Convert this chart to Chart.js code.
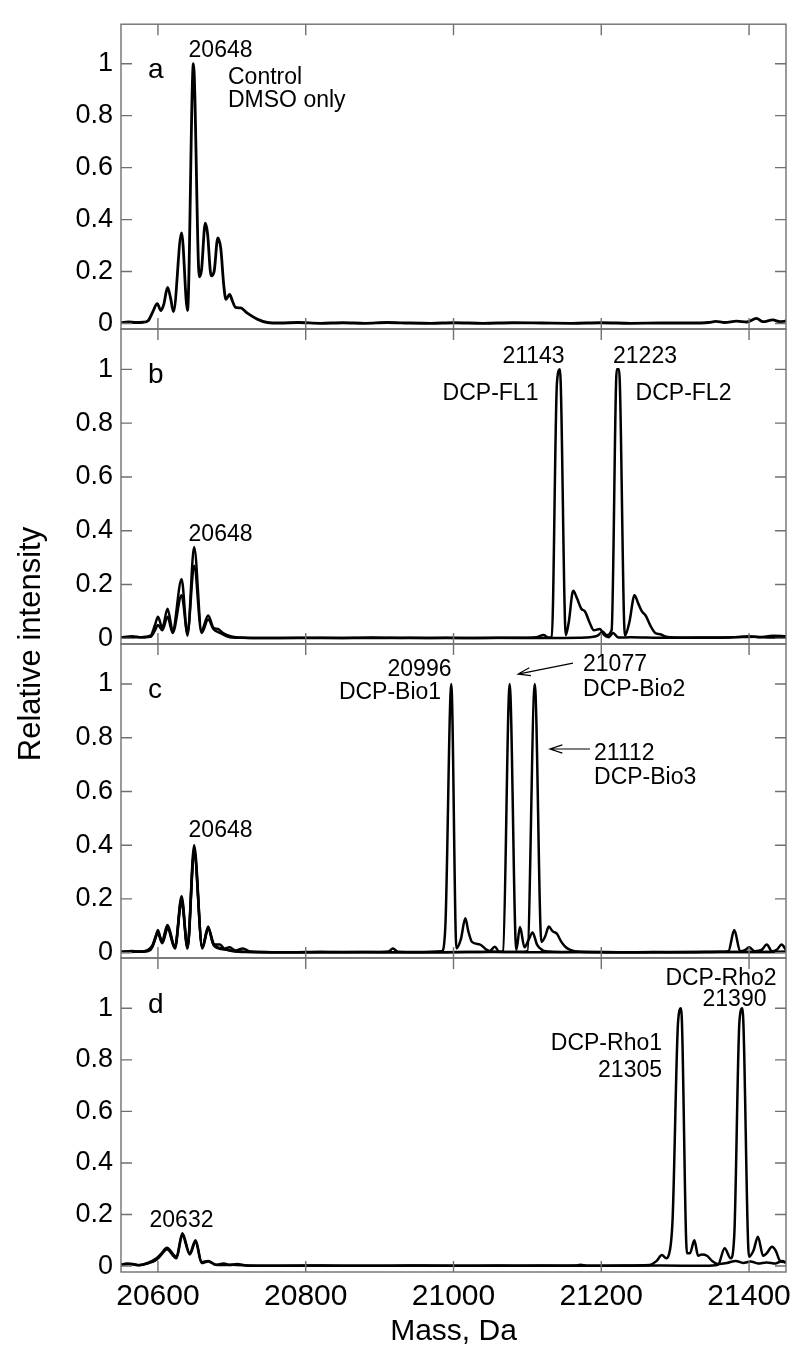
<!DOCTYPE html>
<html>
<head>
<meta charset="utf-8">
<title>Relative intensity vs mass</title>
<script src="https://cdn.jsdelivr.net/npm/chart.js@4.4.1/dist/chart.umd.min.js"></script>
<style>
  html, body { margin: 0; padding: 0; background: #fff; }
  #wrap { position: relative; width: 800px; height: 1357px; }
  #wrap canvas { position: absolute; left: 0; top: 0; }
</style>
</head>
<body>
<div id="wrap">
  <canvas id="panelA" width="800" height="1357"></canvas>
  <canvas id="panelB" width="800" height="1357"></canvas>
  <canvas id="panelC" width="800" height="1357"></canvas>
  <canvas id="panelD" width="800" height="1357"></canvas>
</div>
<script>
// ---- data (mass in Da, relative intensity) ----

// a: control, DMSO only
var aMass = [20550, 20560, 20570, 20580, 20587, 20593, 20599, 20604, 20608, 20613, 20617, 20621, 20632, 20640, 20648, 20656, 20659, 20664, 20667, 20672, 20676, 20681, 20685, 20689, 20692, 20697, 20701, 20705, 20712, 20721, 20735, 20748, 20765, 20790, 20820, 20850, 20880, 20910, 20940, 20970, 21000, 21040, 21080, 21120, 21160, 21200, 21240, 21280, 21320, 21345, 21355, 21367, 21383, 21397, 21410, 21419, 21432, 21442, 21450];
var aInt = [0.003, 0.006, 0.004, 0.005, 0.012, 0.045, 0.077, 0.05, 0.075, 0.139, 0.1, 0.046, 0.349, 0.05, 1.0, 0.18, 0.207, 0.386, 0.35, 0.184, 0.2, 0.33, 0.29, 0.15, 0.093, 0.112, 0.085, 0.062, 0.06, 0.04, 0.016, 0.004, 0.002, 0.004, 0.001, 0.003, 0.001, 0.004, 0.002, 0.001, 0.003, 0.001, 0.003, 0.002, 0.001, 0.003, 0.001, 0.002, 0.002, 0.004, 0.008, 0.004, 0.009, 0.006, 0.02, 0.007, 0.014, 0.007, 0.01];

// b: DCP-FL1 and DCP-FL2
var bFl1Mass = [20550, 20565, 20578, 20590, 20596, 20600, 20606, 20613, 20620, 20632, 20640, 20649, 20659, 20668, 20675, 20681, 20688, 20698, 20712, 20740, 20790, 20840, 20890, 20940, 20990, 21040, 21090, 21112, 21122, 21128, 21133, 21140, 21144, 21152, 21156, 21162, 21167, 21173, 21178, 21184, 21190, 21198, 21204, 21210, 21216, 21223, 21240, 21280, 21330, 21370, 21400, 21415, 21432, 21450];
var bFl1Int = [0.003, 0.008, 0.004, 0.01, 0.05, 0.08, 0.04, 0.11, 0.03, 0.22, 0.01, 0.34, 0.03, 0.085, 0.04, 0.035, 0.02, 0.008, 0.003, 0.001, 0.002, 0.001, 0.003, 0.001, 0.002, 0.001, 0.002, 0.004, 0.012, 0.003, 0.004, 0.95, 1.0, 0.012, 0.06, 0.177, 0.15, 0.11, 0.1, 0.06, 0.03, 0.035, 0.012, 0.004, 0.02, 0.003, 0.004, 0.002, 0.003, 0.003, 0.008, 0.004, 0.01, 0.008];
var bFl2Mass = [20550, 20570, 20590, 20596, 20600, 20606, 20613, 20620, 20632, 20640, 20649, 20659, 20668, 20675, 20684, 20695, 20710, 20760, 20820, 20880, 20940, 21000, 21060, 21120, 21170, 21185, 21195, 21202, 21207, 21214, 21221, 21224, 21232, 21238, 21245, 21250, 21255, 21260, 21266, 21273, 21280, 21288, 21300, 21340, 21380, 21410, 21430, 21450];
var bFl2Int = [0.002, 0.004, 0.006, 0.03, 0.05, 0.03, 0.08, 0.02, 0.16, 0.02, 0.27, 0.02, 0.07, 0.035, 0.02, 0.006, 0.002, 0.001, 0.002, 0.001, 0.002, 0.001, 0.002, 0.001, 0.002, 0.004, 0.01, 0.025, 0.012, 0.03, 1.0, 1.0, 0.01, 0.06, 0.16, 0.13, 0.1, 0.085, 0.05, 0.02, 0.015, 0.006, 0.003, 0.002, 0.004, 0.006, 0.003, 0.005];

// c: DCP-Bio1, DCP-Bio2, DCP-Bio3
var cBio1Mass = [20550, 20565, 20580, 20590, 20596, 20600, 20605, 20613, 20623, 20632, 20640, 20649, 20660, 20668, 20675, 20684, 20690, 20697, 20705, 20715, 20725, 20745, 20780, 20820, 20860, 20900, 20912, 20918, 20925, 20950, 20984, 20989, 20997, 21004, 21010, 21016, 21020, 21025, 21036, 21045, 21052, 21080, 21120, 21170, 21220, 21270, 21320, 21360, 21372, 21380, 21388, 21395, 21400, 21408, 21417, 21424, 21431, 21438, 21444, 21450];
var cBio1Int = [0.003, 0.006, 0.003, 0.01, 0.05, 0.084, 0.04, 0.103, 0.02, 0.21, 0.02, 0.4, 0.02, 0.097, 0.03, 0.03, 0.015, 0.02, 0.008, 0.015, 0.004, 0.002, 0.001, 0.003, 0.001, 0.002, 0.004, 0.015, 0.003, 0.002, 0.005, 0.1, 1.0, 0.016, 0.05, 0.128, 0.08, 0.04, 0.03, 0.01, 0.004, 0.002, 0.001, 0.002, 0.001, 0.002, 0.001, 0.003, 0.005, 0.084, 0.005, 0.01, 0.02, 0.005, 0.01, 0.03, 0.005, 0.012, 0.03, 0.01];
var cBio2Mass = [20550, 20575, 20592, 20600, 20606, 20613, 20623, 20632, 20640, 20649, 20660, 20668, 20676, 20690, 20705, 20730, 20800, 20880, 20960, 21020, 21048, 21056, 21062, 21067, 21076, 21085, 21090, 21096, 21102, 21107, 21113, 21120, 21130, 21160, 21220, 21300, 21380, 21450];
var cBio2Int = [0.002, 0.004, 0.02, 0.07, 0.035, 0.09, 0.015, 0.19, 0.015, 0.37, 0.015, 0.09, 0.025, 0.012, 0.006, 0.002, 0.001, 0.002, 0.001, 0.002, 0.003, 0.022, 0.003, 0.006, 1.0, 0.01, 0.095, 0.02, 0.05, 0.075, 0.03, 0.01, 0.004, 0.002, 0.001, 0.002, 0.002, 0.003];
var cBio3Mass = [20550, 20580, 20592, 20600, 20606, 20613, 20623, 20632, 20640, 20649, 20660, 20668, 20676, 20688, 20700, 20720, 20780, 20860, 20940, 21020, 21070, 21090, 21100, 21110, 21119, 21124, 21129, 21134, 21140, 21146, 21152, 21158, 21170, 21200, 21260, 21330, 21400, 21450];
var cBio3Int = [0.003, 0.004, 0.025, 0.075, 0.04, 0.095, 0.02, 0.2, 0.02, 0.38, 0.02, 0.09, 0.03, 0.015, 0.006, 0.002, 0.001, 0.002, 0.001, 0.002, 0.002, 0.003, 0.005, 1.0, 0.04, 0.06, 0.097, 0.08, 0.07, 0.04, 0.02, 0.01, 0.003, 0.002, 0.001, 0.002, 0.002, 0.002];

// d: DCP-Rho1 and DCP-Rho2
var dRho1Mass = [20550, 20558, 20566, 20575, 20586, 20598, 20605, 20612, 20625, 20633, 20643, 20651, 20659, 20668, 20678, 20689, 20697, 20707, 20720, 20760, 20820, 20880, 20940, 21000, 21060, 21120, 21165, 21172, 21180, 21230, 21265, 21275, 21282, 21288, 21291, 21296.5, 21304, 21308, 21316, 21320, 21326, 21331, 21336, 21343, 21350, 21358, 21370, 21382, 21392, 21402, 21412, 21424, 21436, 21445, 21450];
var dRho1Int = [0.005, 0.01, 0.008, 0.004, 0.012, 0.03, 0.05, 0.071, 0.036, 0.127, 0.05, 0.1, 0.015, 0.02, 0.005, 0.01, 0.004, 0.008, 0.002, 0.001, 0.002, 0.001, 0.002, 0.001, 0.002, 0.001, 0.002, 0.005, 0.001, 0.002, 0.004, 0.02, 0.043, 0.03, 0.04, 0.18, 0.95, 1.0, 0.05, 0.05, 0.1, 0.04, 0.045, 0.04, 0.02, 0.008, 0.012, 0.02, 0.012, 0.018, 0.01, 0.014, 0.01, 0.02, 0.012];
var dRho2Mass = [20550, 20562, 20575, 20586, 20598, 20605, 20612, 20625, 20633, 20643, 20651, 20659, 20668, 20680, 20700, 20730, 20800, 20880, 20960, 21040, 21120, 21200, 21280, 21340, 21358, 21367, 21375, 21380, 21387, 21391, 21400, 21406, 21412, 21419, 21424, 21431, 21436, 21442, 21450];
var dRho2Int = [0.004, 0.008, 0.003, 0.01, 0.025, 0.045, 0.065, 0.03, 0.12, 0.045, 0.095, 0.012, 0.018, 0.004, 0.005, 0.001, 0.002, 0.001, 0.002, 0.001, 0.002, 0.001, 0.002, 0.001, 0.005, 0.069, 0.03, 0.12, 0.95, 1.0, 0.036, 0.06, 0.114, 0.04, 0.05, 0.075, 0.06, 0.02, 0.015];

// tick labels
var xMajorTicks = [20600, 20800, 21000, 21200, 21400];
var yLabelTicks = [0, 0.2, 0.4, 0.6, 0.8, 1];
var xTitle = 'Mass, Da';
var yTitle = 'Relative intensity';

// ---- layout ----
var PAGE_H = 1357;
var FONT = "'Liberation Sans', Arial, Helvetica, sans-serif";
var FRAME = '#707070';
Chart.defaults.font.family = FONT;
Chart.defaults.color = '#000';

function toPoints(mass, val) {
    return mass.map(function(m, i) { return { x: m, y: val[i] }; });
}

function yLabel(v) {
    for (var i = 0; i < yLabelTicks.length; i++) {
        if (Math.abs(v - yLabelTicks[i]) < 1e-9) return String(yLabelTicks[i]);
    }
    return null;
}

function decor(notes, arrows, extra) {
    return {
        id: 'panelDecor',
        afterDraw: function(chart) {
            var ctx = chart.ctx, area = chart.chartArea;
            var xs = chart.scales.x, ys = chart.scales.y;
            ctx.save();

            // box + inward ticks on all four sides
            ctx.strokeStyle = FRAME;
            ctx.lineWidth = 1.4;
            ctx.strokeRect(area.left, area.top, area.right - area.left, area.bottom - area.top);
            ctx.beginPath();
            xs.ticks.forEach(function(t) {
                var v = t.value;
                if (v <= xs.min || v >= xs.max) return;
                var px = xs.getPixelForValue(v);
                var len = xMajorTicks.indexOf(v) >= 0 ? 11 : 6;
                ctx.moveTo(px, area.top); ctx.lineTo(px, area.top + len);
                ctx.moveTo(px, area.bottom); ctx.lineTo(px, area.bottom - len);
            });
            ys.ticks.forEach(function(t) {
                var v = t.value, r = Math.round(v * 10);
                if (Math.abs(v * 10 - r) > 1e-6 || v < ys.min || v > ys.max) return;
                var py = ys.getPixelForValue(v);
                var len = r % 2 === 0 ? 11 : 6;
                ctx.moveTo(area.left, py); ctx.lineTo(area.left + len, py);
                ctx.moveTo(area.right, py); ctx.lineTo(area.right - len, py);
            });
            ctx.stroke();

            // peak labels
            ctx.fillStyle = '#000';
            ctx.textBaseline = 'alphabetic';
            notes.forEach(function(n) {
                ctx.font = (n.size || 23) + 'px ' + FONT;
                ctx.textAlign = n.align || 'center';
                ctx.fillText(n.text, xs.getPixelForValue(n.x), ys.getPixelForValue(n.y));
            });

            // arrows
            ctx.strokeStyle = '#000';
            ctx.lineWidth = 1.2;
            ctx.beginPath();
            arrows.forEach(function(a) {
                var x1 = xs.getPixelForValue(a.from[0]), y1 = ys.getPixelForValue(a.from[1]);
                var x2 = xs.getPixelForValue(a.to[0]), y2 = ys.getPixelForValue(a.to[1]);
                var ang = Math.atan2(y2 - y1, x2 - x1);
                ctx.moveTo(x1, y1); ctx.lineTo(x2, y2);
                ctx.moveTo(x2 - 13 * Math.cos(ang - 0.32), y2 - 13 * Math.sin(ang - 0.32));
                ctx.lineTo(x2, y2);
                ctx.lineTo(x2 - 13 * Math.cos(ang + 0.32), y2 - 13 * Math.sin(ang + 0.32));
            });
            ctx.stroke();

            if (extra) extra(ctx);
            ctx.restore();
        }
    };
}

function makePanel(id, series, yMin, yMax, top, bottom, isLast, notes, arrows, lineWidth, extra) {
    var datasets = series.map(function(s) {
        return {
            data: toPoints(s[0], s[1]),
            borderColor: '#000',
            borderWidth: lineWidth,
            pointRadius: 0,
            fill: false,
            cubicInterpolationMode: 'monotone'
        };
    });
    return new Chart(document.getElementById(id), {
        type: 'line',
        data: { datasets: datasets },
        options: {
            responsive: false,
            animation: false,
            events: [],
            layout: { padding: { top: top, bottom: isLast ? 0 : PAGE_H - bottom, left: 0, right: 14 } },
            plugins: { legend: { display: false }, tooltip: { enabled: false } },
            scales: {
                x: {
                    type: 'linear', min: 20550, max: 21450,
                    grid: { display: false, drawTicks: false },
                    border: { display: false },
                    ticks: {
                        display: isLast, stepSize: 50, autoSkip: false, maxRotation: 0,
                        padding: 7, color: '#000', font: { size: 30 },
                        callback: function(v) { return xMajorTicks.indexOf(v) >= 0 ? String(v) : null; }
                    },
                    title: { display: isLast, text: xTitle, color: '#000', font: { size: 30 }, padding: { top: 0, bottom: 7 } },
                    afterFit: function(s) { s.height = isLast ? PAGE_H - bottom : 0; }
                },
                y: {
                    type: 'linear', min: yMin, max: yMax,
                    grid: { display: false, drawTicks: false },
                    border: { display: false },
                    ticks: {
                        stepSize: 0.1, includeBounds: false, autoSkip: false, padding: 8,
                        color: '#000', font: { size: 27 },
                        callback: yLabel
                    },
                    afterFit: function(s) { s.width = 121; }
                }
            }
        },
        plugins: [decor(notes, arrows, extra)]
    });
}

makePanel('panelA', [[aMass, aInt]], -0.021, 1.152, 15, 329, false, [
    { text: 'a', x: 20586.5, y: 0.944, size: 28, align: 'left' },
    { text: '20648', x: 20684.7, y: 1.025 },
    { text: 'Control', x: 20694.8, y: 0.920, align: 'left' },
    { text: 'DMSO only', x: 20694.8, y: 0.834, align: 'left' }
], [], 2.8);

makePanel('panelB', [[bFl1Mass, bFl1Int], [bFl2Mass, bFl2Int]], -0.021, 1.15, 329, 644, false, [
    { text: 'b', x: 20586.5, y: 0.949, size: 28, align: 'left' },
    { text: '20648', x: 20684.7, y: 0.362 },
    { text: '21143', x: 21108.3, y: 1.023 },
    { text: '21223', x: 21259.2, y: 1.023 },
    { text: 'DCP-FL1', x: 21050.1, y: 0.886 },
    { text: 'DCP-FL2', x: 21311.3, y: 0.886 }
], [], 2.5);

makePanel('panelC', [[cBio1Mass, cBio1Int], [cBio2Mass, cBio2Int], [cBio3Mass, cBio3Int]], -0.02, 1.149, 644, 958, false, [
    { text: 'c', x: 20586.5, y: 0.948, size: 28, align: 'left' },
    { text: '20648', x: 20684.7, y: 0.431 },
    { text: '20996', x: 20954, y: 1.030 },
    { text: 'DCP-Bio1', x: 20914.1, y: 0.944 },
    { text: '21077', x: 21175.3, y: 1.048, align: 'left' },
    { text: 'DCP-Bio2', x: 21175.3, y: 0.955, align: 'left' },
    { text: '21112', x: 21190.2, y: 0.717, align: 'left' },
    { text: 'DCP-Bio3', x: 21190.2, y: 0.628, align: 'left' }
], [
    { from: [21161.7, 1.078], to: [21087.3, 1.037] },
    { from: [21184.7, 0.758], to: [21130.6, 0.758] }
], 2.5);

makePanel('panelD', [[dRho1Mass, dRho1Int], [dRho2Mass, dRho2Int]], -0.023, 1.195, 958, 1272, true, [
    { text: 'd', x: 20586.5, y: 0.982, size: 28, align: 'left' },
    { text: '20632', x: 20631.9, y: 0.151 },
    { text: 'DCP-Rho2', x: 21362, y: 1.090 },
    { text: '21390', x: 21380.3, y: 1.009 },
    { text: 'DCP-Rho1', x: 21282.2, y: 0.838, align: 'right' },
    { text: '21305', x: 21282.2, y: 0.733, align: 'right' }
], [], 2.5, function(ctx) {
    // shared y title for the four stacked panels
    ctx.save();
    ctx.translate(40, 644);
    ctx.rotate(-Math.PI / 2);
    ctx.font = '31px ' + FONT;
    ctx.textAlign = 'center';
    ctx.textBaseline = 'alphabetic';
    ctx.fillStyle = '#000';
    ctx.fillText(yTitle, 0, 0);
    ctx.restore();
});
</script>
</body>
</html>
